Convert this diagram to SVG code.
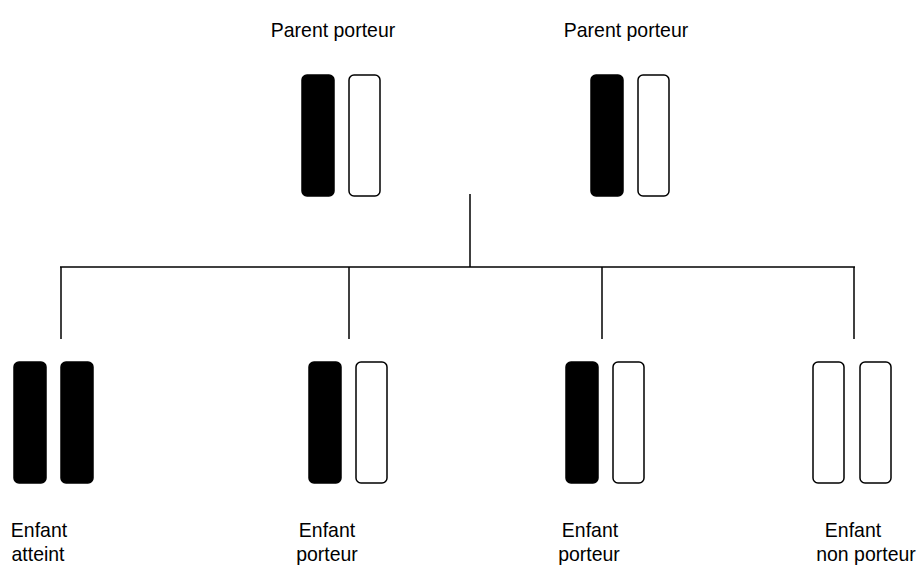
<svg xmlns="http://www.w3.org/2000/svg" width="923" height="567" viewBox="0 0 923 567">
<style>
text{font-family:"Liberation Sans",Arial,sans-serif;font-size:20.5px;fill:#000;text-anchor:middle}
.b{fill:#000;stroke:#000;stroke-width:1.5}
.w{fill:#fff;stroke:#000;stroke-width:1.5}
.c line{stroke:#000;stroke-width:1.5}
</style>
<rect width="923" height="567" fill="#fff"/>
<g class="c" id="connectors">
<line x1="470" y1="194" x2="470" y2="267"/>
<line x1="60" y1="267" x2="855" y2="267"/>
<line x1="61" y1="267" x2="61" y2="339"/>
<line x1="349" y1="267" x2="349" y2="339"/>
<line x1="602" y1="267" x2="602" y2="339"/>
<line x1="854" y1="267" x2="854" y2="339"/>
</g>
<g id="parent1">
<text transform="translate(333 37) scale(0.95 1)">Parent porteur</text>
<rect class="b" x="302" y="75" width="32" height="121" rx="5"/>
<rect class="w" x="349" y="75" width="31" height="121" rx="5"/>
</g>
<g id="parent2">
<text transform="translate(626 37) scale(0.95 1)">Parent porteur</text>
<rect class="b" x="591" y="75" width="32" height="121" rx="5"/>
<rect class="w" x="638" y="75" width="31" height="121" rx="5"/>
</g>
<g id="child1">
<rect class="b" x="14" y="362" width="32" height="121" rx="5"/>
<rect class="b" x="61" y="362" width="32" height="121" rx="5"/>
<text transform="translate(39 537) scale(0.95 1)">Enfant</text>
<text transform="translate(38 561) scale(0.95 1)">atteint</text>
</g>
<g id="child2">
<rect class="b" x="309" y="362" width="32" height="121" rx="5"/>
<rect class="w" x="356" y="362" width="31" height="121" rx="5"/>
<text transform="translate(327 537) scale(0.95 1)">Enfant</text>
<text transform="translate(327 561) scale(0.95 1)">porteur</text>
</g>
<g id="child3">
<rect class="b" x="566" y="362" width="32" height="121" rx="5"/>
<rect class="w" x="613" y="362" width="31" height="121" rx="5"/>
<text transform="translate(590 537) scale(0.95 1)">Enfant</text>
<text transform="translate(589 561) scale(0.95 1)">porteur</text>
</g>
<g id="child4">
<rect class="w" x="813" y="362" width="31" height="121" rx="5"/>
<rect class="w" x="860" y="362" width="31" height="121" rx="5"/>
<text transform="translate(853 537) scale(0.95 1)">Enfant</text>
<text transform="translate(866 561) scale(0.95 1)">non porteur</text>
</g>
</svg>
